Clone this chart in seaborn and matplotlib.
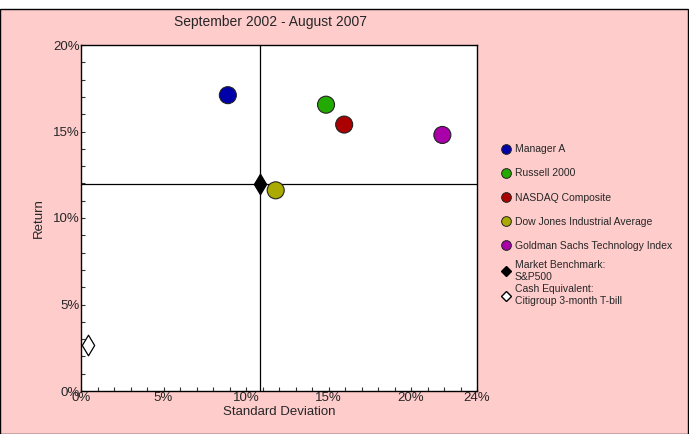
import matplotlib
matplotlib.use("Agg")
import matplotlib.pyplot as plt
import seaborn as sns
import pandas as pd
from matplotlib.lines import Line2D
from matplotlib.patches import Rectangle
from matplotlib.ticker import FuncFormatter, MultipleLocator

# data (percent)
names = ["Manager A", "Russell 2000", "NASDAQ Composite",
         "Dow Jones Industrial Average", "Goldman Sachs Technology Index"]
std_dev = [8.9, 14.85, 15.95, 11.8, 21.9]
returns = [17.1, 16.55, 15.4, 11.6, 14.8]
colors = ["#0000AA", "#22AA00", "#AA0000", "#AAAA00", "#AA00AA"]

bench_name = "Market Benchmark:\nS&P500"
bench_std = 10.85
bench_ret = 11.97

cash_name = "Cash Equivalent:\nCitigroup 3-month T-bill"
cash_std = 0.42
cash_ret = 2.66

x_ticks = [0, 5, 10, 15, 20, 24]
y_ticks = [0, 5, 10, 15, 20]

sns.set_style("white")
plt.rcParams["font.family"] = ["Liberation Sans", "DejaVu Sans"]

df = pd.DataFrame({"name": names, "std": std_dev, "ret": returns})

fig = plt.figure(figsize=(6.89, 4.34), dpi=100, facecolor="white")
fig.patches.append(Rectangle((0.0007, 0.001), 0.998, (434 - 9.5) / 434,
                             transform=fig.transFigure, facecolor="#FFCCCC",
                             edgecolor="black", linewidth=1, zorder=-10))
ax = fig.add_axes([81 / 689, 43 / 434, 396 / 689, 346 / 434])
ax.set_facecolor("white")

# crosshair through the benchmark
ax.axvline(bench_std, color="black", lw=0.9, zorder=1)
ax.axhline(bench_ret, color="black", lw=0.9, zorder=1)

sns.scatterplot(data=df, x="std", y="ret", hue="name", palette=colors,
                s=150, edgecolor="#222222", linewidth=0.8, legend=False,
                ax=ax, zorder=3)
sns.scatterplot(x=[bench_std], y=[bench_ret], marker="d", s=110,
                color="black", edgecolor="black", ax=ax, zorder=4)
sns.scatterplot(x=[cash_std], y=[cash_ret], marker="d", s=110,
                color="white", edgecolor="black", linewidth=0.9, ax=ax, zorder=4)

ax.set_xlim(0, 24)
ax.set_ylim(0, 20)
ax.set_xticks(x_ticks)
ax.set_yticks(y_ticks)
ax.xaxis.set_minor_locator(MultipleLocator(1))
ax.yaxis.set_minor_locator(MultipleLocator(1))
pct = FuncFormatter(lambda v, p: f"{v:.0f}%")
ax.xaxis.set_major_formatter(pct)
ax.yaxis.set_major_formatter(pct)
ax.tick_params(which="both", direction="in", length=3, width=0.8,
               labelsize=9.5, pad=1, bottom=True, left=True, color="#333333")
for s in ax.spines.values():
    s.set_color("black")
    s.set_linewidth(1)

ax.set_xlabel("Standard Deviation", fontsize=9.5, labelpad=1)
ax.set_ylabel("Return", fontsize=9.5, labelpad=6)
fig.text(270 / 689, 1 - 22 / 434, "September 2002 - August 2007",
         ha="center", va="center", fontsize=10)

# legend: circles, then the two diamond entries packed tighter
circle_handles = [Line2D([], [], marker="o", ls="", markersize=7,
                         markerfacecolor=c, markeredgecolor="#222222",
                         markeredgewidth=0.7) for c in colors]
fig.legend(circle_handles, names, loc="upper left",
           bbox_to_anchor=(497 / 689, 1 - 139 / 434), frameon=False,
           fontsize=7.5, handlelength=0.8, handletextpad=0.4,
           labelspacing=1.36, borderpad=0)

diamond_handles = [
    Line2D([], [], marker="D", ls="", markersize=5,
           markerfacecolor="black", markeredgecolor="black"),
    Line2D([], [], marker="D", ls="", markersize=5,
           markerfacecolor="white", markeredgecolor="black"),
]
fig.legend(diamond_handles, [bench_name, cash_name], loc="upper left",
           bbox_to_anchor=(497 / 689, 1 - 255 / 434), frameon=False,
           fontsize=7.5, handlelength=0.8, handletextpad=0.4,
           labelspacing=0.25, borderpad=0)

fig.savefig("out.png", dpi=100, facecolor=fig.get_facecolor())
